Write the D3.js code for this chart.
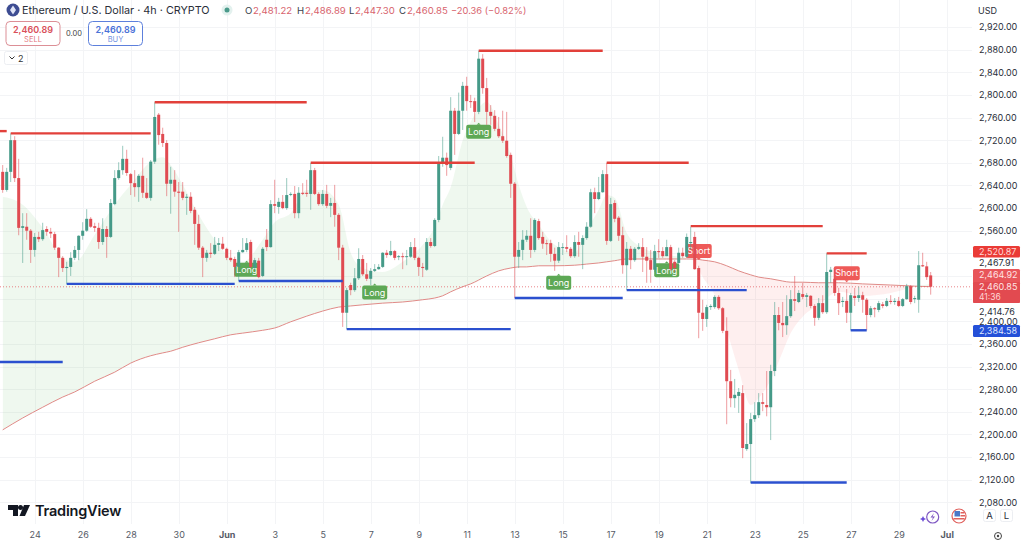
<!DOCTYPE html>
<html>
<head>
<meta charset="utf-8">
<script src="https://cdn.jsdelivr.net/npm/d3@7"></script>
<style>
  html, body { margin: 0; padding: 0; background: #fff; }
  svg { display: block; font-family: Inter, "Liberation Sans", sans-serif; }
  .axis text { font-family: Inter, "Liberation Sans", sans-serif; }
</style>
</head>
<body>
<svg id="chart" width="1024" height="544"></svg>
<script>
// 4h candles, [open, high, low, close]
const candles = [
  [2664,2676,2627,2632],[2632,2671,2629,2664],[2664,2732,2646,2720],[2720,2727,2646,2653],[2653,2687,2552,2565],
  [2565,2591,2503,2568],[2567,2591,2544,2560],[2560,2563,2503,2526],[2526,2556,2514,2549],[2549,2558,2540,2545],
  [2545,2574,2542,2561],[2563,2568,2551,2558],[2558,2565,2547,2555],[2554,2558,2526,2530],[2530,2531,2478,2512],
  [2512,2515,2487,2494],[2494,2505,2466,2496],[2496,2522,2480,2512],[2512,2533,2508,2526],[2526,2552,2508,2551],
  [2551,2575,2544,2560],[2560,2598,2558,2581],[2581,2584,2565,2567],[2568,2574,2558,2565],[2565,2574,2528,2540],
  [2540,2582,2535,2563],[2563,2568,2512,2549],[2549,2616,2547,2609],[2607,2667,2605,2653],[2653,2681,2650,2667],
  [2667,2710,2659,2687],[2687,2703,2657,2662],[2660,2662,2623,2644],[2644,2667,2620,2637],[2637,2660,2611,2657],
  [2657,2689,2618,2627],[2627,2653,2616,2618],[2618,2685,2613,2682],[2682,2787,2678,2761],[2765,2768,2712,2729],
  [2731,2742,2708,2715],[2715,2720,2621,2643],[2643,2673,2590,2650],[2650,2667,2620,2629],[2629,2646,2558,2627],
  [2629,2646,2614,2618],[2618,2625,2588,2620],[2620,2628,2591,2595],[2597,2602,2535,2572],[2572,2588,2526,2530],
  [2530,2533,2478,2512],[2512,2526,2505,2521],[2521,2538,2512,2519],[2519,2549,2517,2535],[2535,2547,2524,2538],
  [2537,2549,2526,2528],[2528,2530,2508,2512],[2512,2526,2505,2508],[2510,2514,2478,2496],[2496,2526,2471,2522],
  [2522,2547,2521,2526],[2526,2547,2522,2538],[2540,2544,2494,2496],[2494,2512,2491,2508],[2507,2512,2476,2478],
  [2480,2531,2478,2528],[2544,2563,2524,2531],[2531,2614,2530,2607],[2607,2650,2591,2604],[2602,2618,2590,2611],
  [2611,2623,2598,2600],[2600,2653,2597,2623],[2624,2628,2621,2625],[2625,2639,2582,2591],[2591,2637,2582,2627],
  [2627,2644,2623,2625],[2627,2650,2620,2625],[2625,2680,2597,2667],[2667,2671,2623,2625],[2625,2628,2604,2607],
  [2607,2632,2604,2625],[2625,2641,2600,2604],[2604,2618,2584,2609],[2609,2641,2567,2588],[2588,2591,2508,2530],
  [2530,2535,2390,2415],[2415,2459,2386,2455],[2464,2468,2446,2455],[2455,2494,2452,2476],[2476,2529,2473,2510],
  [2510,2517,2480,2483],[2483,2503,2471,2475],[2475,2494,2464,2489],[2489,2501,2487,2492],[2492,2501,2491,2496],
  [2496,2522,2494,2521],[2521,2526,2512,2517],[2517,2542,2515,2524],[2524,2526,2508,2512],[2514,2517,2508,2515],
  [2515,2521,2492,2514],[2514,2526,2499,2515],[2514,2540,2512,2531],[2531,2547,2508,2512],[2512,2514,2480,2496],
  [2496,2503,2478,2494],[2491,2547,2489,2540],[2540,2547,2530,2533],[2533,2582,2531,2579],[2579,2692,2575,2680],
  [2680,2726,2673,2689],[2689,2698,2657,2676],[2671,2796,2667,2772],[2772,2777,2694,2731],[2731,2804,2729,2772],
  [2772,2823,2738,2816],[2816,2832,2772,2789],[2789,2800,2777,2788],[2789,2795,2752,2770],[2770,2878,2766,2864],
  [2864,2872,2802,2812],[2812,2830,2747,2770],[2770,2782,2747,2763],[2763,2773,2736,2740],[2740,2761,2724,2727],
  [2727,2772,2715,2719],[2719,2770,2689,2692],[2694,2698,2618,2643],[2643,2646,2441,2514],[2514,2540,2494,2526],
  [2526,2561,2508,2544],[2544,2561,2540,2551],[2551,2582,2512,2526],[2526,2582,2522,2579],[2577,2581,2544,2547],
  [2549,2558,2528,2537],[2538,2544,2517,2537],[2538,2544,2505,2519],[2519,2530,2489,2507],[2507,2540,2503,2531],
  [2530,2538,2517,2531],[2531,2552,2522,2528],[2528,2531,2512,2515],[2515,2552,2512,2540],[2540,2558,2514,2535],
  [2535,2552,2492,2547],[2547,2575,2544,2567],[2567,2634,2565,2628],[2628,2636,2591,2616],[2616,2655,2614,2628],
  [2628,2667,2627,2660],[2660,2680,2535,2542],[2542,2618,2540,2607],[2609,2614,2575,2581],[2583,2586,2542,2551],
  [2552,2567,2484,2499],[2499,2540,2455,2528],[2528,2533,2492,2508],[2508,2531,2505,2528],[2528,2538,2526,2531],
  [2531,2547,2487,2514],[2514,2531,2468,2507],[2508,2526,2468,2491],[2491,2535,2487,2524],[2524,2545,2512,2522],
  [2524,2531,2512,2515],[2515,2544,2515,2531],[2531,2535,2489,2492],[2505,2508,2487,2494],[2503,2530,2494,2521],
  [2521,2530,2512,2515],[2514,2555,2512,2549],[2538,2567,2526,2540],[2549,2558,2491,2492],[2494,2498,2370,2415],
  [2415,2438,2383,2404],[2404,2429,2390,2425],[2425,2430,2420,2427],[2425,2446,2422,2443],[2443,2446,2420,2423],
  [2423,2425,2379,2383],[2383,2407,2218,2294],[2294,2314,2248,2264],[2264,2298,2247,2270],[2268,2282,2238,2275],
  [2273,2287,2158,2176],[2174,2220,2171,2183],[2183,2238,2114,2227],[2227,2257,2222,2234],[2234,2273,2229,2257],
  [2257,2273,2241,2254],[2252,2312,2232,2248],[2248,2323,2190,2312],[2312,2434,2303,2411],[2411,2425,2384,2397],
  [2397,2434,2372,2393],[2393,2446,2376,2409],[2409,2455,2406,2439],[2439,2480,2418,2436],[2434,2455,2432,2450],
  [2448,2468,2439,2443],[2443,2450,2425,2446],[2445,2446,2423,2427],[2427,2430,2392,2406],[2406,2441,2402,2432],
  [2432,2446,2413,2416],[2416,2520,2413,2487],[2487,2496,2468,2491],[2475,2492,2445,2450],[2450,2459,2411,2432],
  [2434,2443,2425,2436],[2436,2457,2397,2415],[2415,2450,2384,2446],[2445,2459,2427,2441],[2441,2461,2434,2446],
  [2446,2452,2415,2438],[2438,2441,2384,2411],[2411,2427,2407,2423],[2423,2425,2407,2422],[2420,2436,2416,2432],
  [2430,2434,2423,2427],[2427,2441,2425,2436],[2436,2446,2430,2434],[2434,2441,2429,2436],[2436,2443,2425,2427],
  [2427,2441,2425,2439],[2439,2466,2438,2462],[2462,2464,2430,2434],[2439,2445,2432,2441],[2438,2524,2415,2499],
  [2499,2521,2496,2497],[2497,2505,2473,2478],[2481,2487,2447,2461]
];

// the two averages, sampled at these candle numbers
const trendBars = [0,5,10,15,18,23,28,32,37,40,42,45,49,53,57,60,65,68,72,76,80,84,87,90,95,100,105,108,110,112,115,117,121,124,127,129,131,134,138,143,146,149,151,153,156,160,166,171,173,175,178,181,184,187,189,192,195,197,200,204,209,215,222,228,232];
const slowAverage = [2208,2229,2248,2266,2275,2294,2310,2326,2339,2344,2347,2354,2362,2369,2376,2379,2384,2388,2399,2409,2418,2425,2427,2429,2432,2434,2438,2441,2445,2452,2461,2466,2480,2489,2494,2496,2496,2498,2498,2499,2501,2503,2505,2507,2510,2510,2510,2510,2510,2508,2505,2498,2489,2482,2478,2475,2471,2469,2469,2468,2468,2466,2464,2462,2461];
const fastAverage = [2620,2606,2565,2512,2505,2553,2606,2641,2682,2690,2676,2641,2588,2544,2512,2505,2544,2575,2591,2632,2632,2606,2521,2494,2487,2505,2535,2567,2606,2637,2720,2752,2788,2747,2694,2641,2602,2570,2535,2522,2561,2597,2623,2618,2556,2530,2517,2512,2505,2478,2446,2384,2314,2252,2264,2296,2346,2379,2408,2429,2452,2445,2450,2461,2466];

// swing levels: [first candle, last candle, price]
const highLevels = [[-1,1,2736],[2,37,2732],[38,76,2787],[77,118,2680],[119,150,2878],[151,171.5,2680],[172,205,2568],[206,216,2520]];
const lowLevels = [[-1,15,2328],[16,58,2466],[59,85,2471],[86,127,2386],[128,155,2441],[156,186,2455],[187,211,2115],[212,216,2384]];

// signal flags: [candle, price, text]
const signals = [[61,2491,'Long'],[93,2451,'Long'],[119,2735,'Long'],[139,2468,'Long'],[166,2490,'Long'],[174,2524,'Short'],[211,2485,'Short']];

const priceTicks = d3.range(2080, 2921, 40);
// these three sit behind the price tags in the picture
const coveredTicks = [2440, 2480, 2520];
const dateTicks = ['2025-05-24','2025-05-26','2025-05-28','2025-05-30','2025-06-01','2025-06-03','2025-06-05','2025-06-07','2025-06-09','2025-06-11','2025-06-13','2025-06-15','2025-06-17','2025-06-19','2025-06-21','2025-06-23','2025-06-25','2025-06-27','2025-06-29','2025-07-01'];
const lastPrice = 2460.85;
const legendParts = [['O','#3a3f4b',245],['2,481.22','#d8646e',253],['H','#3a3f4b',297],['2,486.89','#d8646e',305],['L','#3a3f4b',349],['2,447.30','#d8646e',355],['C','#3a3f4b',399],['2,460.85','#d8646e',407],['\u221220.36 (\u22120.82%)','#d8646e',451]];
const plainTags = [[2467.91,263],[2414.76,312]];

const UP = '#459a88', DOWN = '#e04b52';
const svg = d3.select('#chart');
const paneW = 972;

const startTime = new Date(Date.UTC(2025, 4, 22, 16));
const x = d3.scaleUtc()
  .domain([startTime, new Date(Date.UTC(2025, 6, 1))])
  .range([2.7, 946.7]);
const barTime = i => new Date(+startTime + i * 4 * 3600 * 1000);
const barX = i => x(barTime(i));
const y = d3.scaleLinear().domain([2920, 2080]).range([27, 502.3]);
const parseDay = d3.utcParse('%Y-%m-%d');

// grid
const grid = svg.append('g').attr('stroke', '#f3f4f6').attr('stroke-width', 1);
priceTicks.forEach(p => {
  grid.append('line').attr('x1', 0).attr('x2', paneW).attr('y1', Math.round(y(p)) + .5).attr('y2', Math.round(y(p)) + .5);
});
dateTicks.forEach(d => {
  const px = Math.round(x(parseDay(d))) + .5;
  grid.append('line').attr('x1', px).attr('x2', px).attr('y1', 0).attr('y2', 524);
});

// band between the averages, green above the slow one and red below it
const trend = trendBars.map((b, i) => ({bar: b, slow: slowAverage[i], fast: fastAverage[i]}));
const slowLine = d3.line().x(d => barX(d.bar)).y(d => y(d.slow)).curve(d3.curveMonotoneX);
const band = d3.area().x(d => barX(d.bar)).y0(d => y(d.slow)).y1(d => y(d.fast)).curve(d3.curveMonotoneX);
const defs = svg.append('defs');
defs.append('clipPath').attr('id', 'aboveSlow').append('path')
  .attr('d', d3.area().x(d => barX(d.bar)).y0(0).y1(d => y(d.slow)).curve(d3.curveMonotoneX)(trend));
defs.append('clipPath').attr('id', 'belowSlow').append('path')
  .attr('d', d3.area().x(d => barX(d.bar)).y0(544).y1(d => y(d.slow)).curve(d3.curveMonotoneX)(trend));
svg.append('path').attr('d', band(trend)).attr('fill', '#4caf50').attr('fill-opacity', .09).attr('clip-path', 'url(#aboveSlow)');
svg.append('path').attr('d', band(trend)).attr('fill', '#ef5350').attr('fill-opacity', .09).attr('clip-path', 'url(#belowSlow)');
svg.append('path').attr('d', slowLine(trend)).attr('fill', 'none').attr('stroke', '#e08b88').attr('stroke-width', 1);

// last price line
svg.append('line').attr('x1', 0).attr('x2', paneW).attr('y1', y(lastPrice)).attr('y2', y(lastPrice))
  .attr('stroke', '#e5646a').attr('stroke-width', .8).attr('stroke-dasharray', '1 2');

// signal flags sit under the candles
const flags = svg.append('g').selectAll('g').data(signals).join('g')
  .attr('transform', d => `translate(${barX(d[0])},${y(d[1])})`);
flags.append('rect').attr('x', d => d[2] == 'Long' ? -12.5 : -13).attr('y', -7).attr('rx', 2)
  .attr('width', d => d[2] == 'Long' ? 25 : 26).attr('height', 14)
  .attr('fill', d => d[2] == 'Long' ? '#5da855' : '#ee5a58');
flags.append('path').attr('d', d => d[2] == 'Long' ? 'M-2,-7L0,-9L2,-7Z' : 'M-2,7L0,9L2,7Z')
  .attr('fill', d => d[2] == 'Long' ? '#5da855' : '#ee5a58');
flags.append('text').attr('text-anchor', 'middle').attr('y', 3.2).attr('font-size', 9).attr('fill', '#fff').text(d => d[2]);

// candles
const bars = svg.append('g').selectAll('g').data(candles).join('g')
  .attr('fill', d => d[3] >= d[0] ? UP : DOWN)
  .attr('stroke', d => d[3] >= d[0] ? UP : DOWN);
bars.append('line')
  .attr('x1', (d, i) => barX(i)).attr('x2', (d, i) => barX(i))
  .attr('y1', d => y(d[1])).attr('y2', d => y(d[2]))
  .attr('stroke-width', 1).attr('stroke-opacity', .55);
bars.append('rect')
  .attr('x', (d, i) => barX(i) - 1.5).attr('width', 3)
  .attr('y', d => y(Math.max(d[0], d[3])))
  .attr('height', d => Math.max(1, Math.abs(y(d[0]) - y(d[3]))))
  .attr('stroke', 'none');

// swing levels
function drawLevels(levels, color) {
  svg.append('g').selectAll('line').data(levels).join('line')
    .attr('x1', d => barX(d[0])).attr('x2', d => barX(d[1]))
    .attr('y1', d => y(d[2])).attr('y2', d => y(d[2]))
    .attr('stroke', color).attr('stroke-width', 2.4);
}
drawLevels(highLevels, '#e2403a');
drawLevels(lowLevels, '#2b50cf');

// axes
const priceAxis = svg.append('g').attr('class', 'axis').attr('transform', 'translate(972,0)')
  .call(d3.axisRight(y).tickValues(priceTicks.filter(p => !coveredTicks.includes(p))).tickFormat(d3.format(',.2f')).tickSize(0).tickPadding(7));
priceAxis.select('.domain').remove();
priceAxis.selectAll('text').attr('font-size', 9).attr('fill', '#2a2e39');

const timeAxis = svg.append('g').attr('class', 'axis').attr('transform', 'translate(0,527)')
  .call(d3.axisBottom(x).tickValues(dateTicks.map(parseDay))
    .tickFormat(d => d.getUTCDate() == 1 ? d3.utcFormat('%b')(d) : d3.utcFormat('%-d')(d)).tickSize(0).tickPadding(5));
timeAxis.select('.domain').remove();
timeAxis.selectAll('text').attr('font-size', 9).attr('fill', '#555a66')
  .attr('font-weight', d => d.getUTCDate() == 1 ? 700 : 400);

// price tags on the right scale
function tag(yTop, h, color) {
  svg.append('rect').attr('x', 973).attr('y', yTop).attr('width', 47).attr('height', h).attr('rx', 1.5).attr('fill', color);
}
function tagText(str, py, color, size) {
  svg.append('text').attr('x', 979).attr('y', py).attr('dy', '.35em').attr('font-size', size || 9).attr('fill', color).text(str);
}
plainTags.forEach(t => {
  svg.append('rect').attr('x', 973).attr('y', t[1] - 6).attr('width', 47).attr('height', 12).attr('fill', '#fff');
  tagText(d3.format(',.2f')(t[0]), t[1], '#2a2e39');
});
tag(246, 11.5, '#ea3b36');
tagText('2,520.87', 251.7, '#ffd9d6');
tag(269, 34, '#e8555a');
svg.append('rect').attr('x', 973).attr('y', 282).attr('width', 47).attr('height', 21).attr('rx', 1.5).attr('fill', '#e24a50');
tagText('2,464.92', 275, '#ffe3e3');
tagText('2,460.85', 287, '#ffe3e3');
tagText('41:36', 297.5, '#ffd5d5', 8.5);
tag(325, 12, '#2450d8');
tagText('2,384.58', 331, '#dfe6ff');
svg.append('text').attr('x', 978).attr('y', 11).attr('dy', '.35em').attr('font-size', 9).attr('fill', '#2a2e39').text('USD');

// header
const head = svg.append('g');
head.append('circle').attr('cx', 13).attr('cy', 10).attr('r', 6.5).attr('fill', '#3d4c92');
head.append('path').attr('d', 'M13,5.5L16,10L13,14.5L10,10Z').attr('fill', '#dfe4f7');
head.append('text').attr('x', 22).attr('y', 14).attr('font-size', 10.8).attr('fill', '#2a2e39').text('Ethereum / U.S. Dollar \u00b7 4h \u00b7 CRYPTO');
head.append('circle').attr('cx', 227).attr('cy', 10).attr('r', 5.5).attr('fill', '#e3f1ee');
head.append('circle').attr('cx', 227).attr('cy', 10).attr('r', 2.5).attr('fill', '#4a9a8a');
legendParts.forEach((p, i) => {
  head.append('text').attr('x', p[2]).attr('y', 14).attr('font-size', i == 8 ? 9.3 : 9.6).attr('fill', p[1]).text(p[0]);
});

function tradeBox(bx, label, color, border) {
  head.append('rect').attr('x', bx + .5).attr('y', 21.5).attr('width', 54).attr('height', 24).attr('rx', 4)
    .attr('fill', '#fff').attr('stroke', border);
  head.append('text').attr('x', bx + 27.5).attr('y', 33).attr('text-anchor', 'middle').attr('font-size', 9).attr('font-weight', 600).attr('fill', color).text('2,460.89');
  head.append('text').attr('x', bx + 27.5).attr('y', 42).attr('text-anchor', 'middle').attr('font-size', 7.5).attr('fill', color).attr('fill-opacity', .8).text(label);
}
tradeBox(5.5, 'SELL', '#d9505a', '#dc8f96');
tradeBox(88, 'BUY', '#4a72d8', '#5d80dc');
head.append('text').attr('x', 74).attr('y', 36).attr('text-anchor', 'middle').attr('font-size', 7.5).attr('fill', '#444').text('0.00');
head.append('rect').attr('x', 4.5).attr('y', 51.5).attr('width', 23).attr('height', 13).attr('rx', 2).attr('fill', '#fff').attr('stroke', '#eceef2');
head.append('path').attr('d', 'M9.5,56.5L12,59L14.5,56.5').attr('fill', 'none').attr('stroke', '#333').attr('stroke-width', 1);
head.append('text').attr('x', 18).attr('y', 61.5).attr('font-size', 9).attr('fill', '#333').text('2');

// logo
const logo = svg.append('g');
logo.append('path').attr('d', 'M8,505H18V516H13V510H8Z').attr('fill', '#131722');
logo.append('circle').attr('cx', 20.5).attr('cy', 507.5).attr('r', 2.5).attr('fill', '#131722');
logo.append('path').attr('d', 'M24,505H30L25,516H19.5Z').attr('fill', '#131722');
logo.append('text').attr('x', 35).attr('y', 516).attr('font-size', 14.5).attr('font-weight', 600).attr('letter-spacing', '-.2').attr('fill', '#131722').text('TradingView');

// small badges bottom right
const badges = svg.append('g');
badges.append('circle').attr('cx', 932.7).attr('cy', 517).attr('r', 6).attr('fill', '#fff').attr('stroke', '#7e57c2').attr('stroke-width', 1.2);
badges.append('path').attr('d', 'M934,513L930.5,517.5H933L931.5,521L935,516.5H932.5Z').attr('fill', '#7e57c2');
badges.append('path').attr('d', 'M923,516L924,518L926,519L924,520L923,522L922,520L920,519L922,518Z').attr('fill', '#6a4bd8');
badges.append('circle').attr('cx', 959).attr('cy', 516).attr('r', 7).attr('fill', '#fff').attr('stroke', '#e0605c').attr('stroke-width', 1.2);
badges.append('path').attr('d', 'M954.5,511H960V516.5H954.5Z').attr('fill', '#4a78c8');
badges.append('path').attr('d', 'M960.5,512H964.5V513.5H960.5ZM960.5,515H965V516.5H960.5ZM953.5,518H964.5V519.5H953.5Z').attr('fill', '#e0605c');
badges.append('rect').attr('x', 983.5).attr('y', 509.5).attr('width', 12).attr('height', 12).attr('rx', 2).attr('fill', '#fff').attr('stroke', '#eceef2');
badges.append('rect').attr('x', 1000.5).attr('y', 509.5).attr('width', 12).attr('height', 12).attr('rx', 2).attr('fill', '#fff').attr('stroke', '#eceef2');
badges.append('text').attr('x', 989.5).attr('y', 519).attr('text-anchor', 'middle').attr('font-size', 9.5).attr('fill', '#2a2e39').text('A');
badges.append('text').attr('x', 1006.5).attr('y', 519).attr('text-anchor', 'middle').attr('font-size', 9.5).attr('fill', '#2a2e39').text('L');
badges.append('circle').attr('cx', 998).attr('cy', 536).attr('r', 3.5).attr('fill', 'none').attr('stroke', '#444').attr('stroke-width', 1);
badges.append('circle').attr('cx', 998).attr('cy', 536).attr('r', 1.2).attr('fill', '#444');
</script>
</body>
</html>
